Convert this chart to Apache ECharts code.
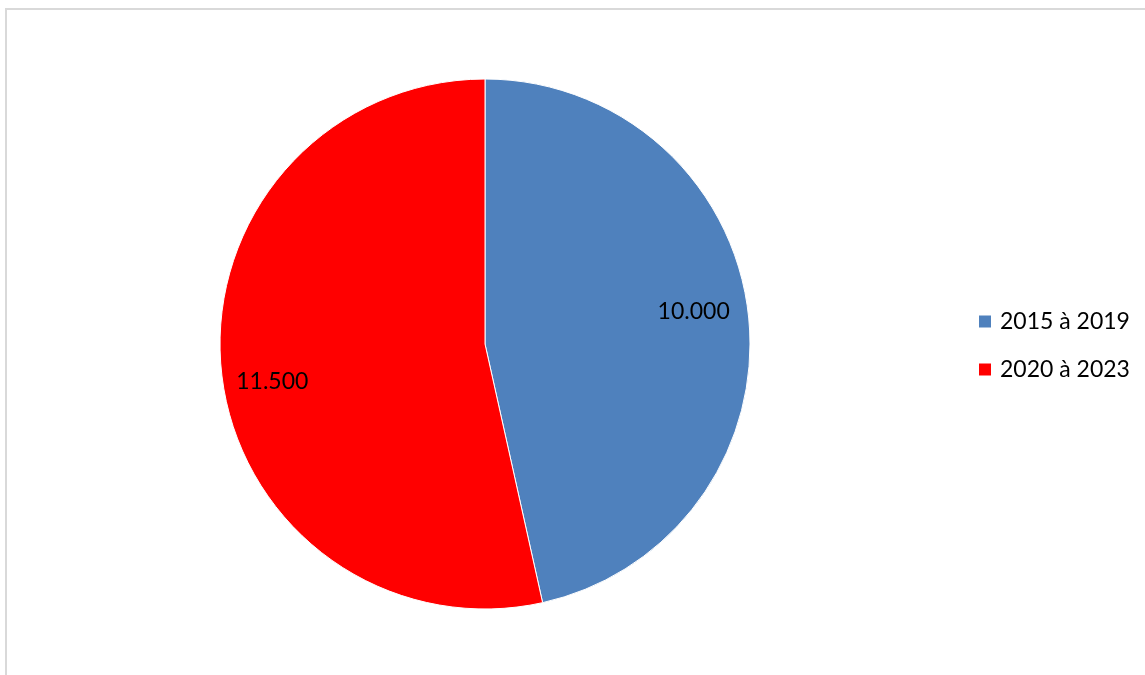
<!DOCTYPE html>
<html>
<head>
<meta charset="utf-8">
<script src="https://cdn.jsdelivr.net/npm/echarts@6/dist/echarts.min.js"></script>
<style>
  html, body { margin: 0; padding: 0; background: #fff; }
  #main { width: 1145px; height: 675px; }
</style>
</head>
<body>
<div id="main"></div>
<script>
// periodes et valeurs
var categories = ['2015 à 2019', '2020 à 2023'];
var values = [10000, 11500];
var labels = ['10.000', '11.500'];
var colors = ['#4F81BD', '#FF0000'];

function makeData() {
    return categories.map(function (c, i) {
        return { name: c, value: values[i], itemStyle: { color: colors[i] } };
    });
}

var myChart = echarts.init(document.getElementById('main'));
var option = {
    animation: false,
    backgroundColor: '#fff',
    graphic: [{
        type: 'rect',
        shape: { x: 6, y: 9, width: 1160, height: 700 },
        style: { fill: 'none', stroke: '#D9D9D9', lineWidth: 2 },
        silent: true
    }],
    legend: {
        orient: 'vertical',
        left: 972,
        top: 305,
        itemWidth: 14,
        itemHeight: 14,
        itemGap: 25,
        icon: 'rect',
        textStyle: { fontFamily: 'Lato', fontSize: 23, color: '#000', padding: [0, 0, 0, 3] },
        data: categories
    },
    series: [
        {
            // le camembert
            type: 'pie',
            center: [485, 344],
            radius: [0, 265],
            startAngle: 90,
            clockwise: true,
            label: { show: false },
            labelLine: { show: false },
            itemStyle: { borderColor: '#fff', borderWidth: 1 },
            emphasis: { disabled: true },
            data: makeData()
        },
        {
            // anneau invisible qui porte les étiquettes
            type: 'pie',
            center: [485, 344],
            radius: [167, 265],
            startAngle: 90,
            clockwise: true,
            silent: true,
            itemStyle: { color: 'transparent', borderWidth: 0 },
            label: {
                show: true,
                position: 'inside',
                color: '#000',
                fontFamily: 'Lato',
                fontSize: 23,
                formatter: function (p) { return labels[p.dataIndex]; }
            },
            labelLine: { show: false },
            // petit décalage comme dans Excel
            labelLayout: function (p) {
                return p.dataIndex === 0 ? { dx: -9, dy: -8 } : { dx: 5, dy: 14 };
            },
            emphasis: { disabled: true },
            data: categories.map(function (c, i) {
                return { name: c, value: values[i], itemStyle: { color: 'transparent' } };
            })
        }
    ]
};
myChart.setOption(option);
</script>
</body>
</html>
